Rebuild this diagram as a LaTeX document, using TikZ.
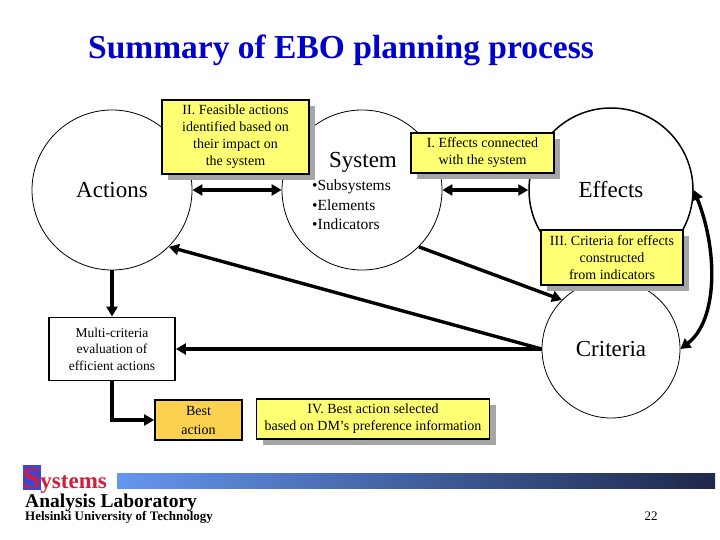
\documentclass[tikz,border=0pt]{standalone}
\usepackage{fontspec}
\setmainfont{Liberation Serif}
\usepackage{xcolor}
\usetikzlibrary{arrows.meta, positioning, calc, shadows}
\definecolor{notebox}{RGB}{255,255,115}
\definecolor{bestbox}{RGB}{250,210,80}
\definecolor{titleblue}{RGB}{0,0,204}
\definecolor{salred}{RGB}{210,30,60}
\definecolor{salblue}{RGB}{60,70,210}
\definecolor{barlight}{RGB}{100,150,240}
\definecolor{barmid}{RGB}{60,90,175}
\definecolor{bardark}{RGB}{30,40,75}

\begin{document}
\begin{tikzpicture}[x=1pt, y=-1pt,
    area/.style={circle, draw, line width=0.8pt, minimum size=160pt, inner sep=0pt,
        font=\fontsize{23}{27}\selectfont},
    note/.style={draw, line width=1.8pt, fill=notebox, align=center, inner sep=0pt,
        font=\fontsize{14}{17}\selectfont,
        drop shadow={shadow xshift=6pt, shadow yshift=-6pt, fill=black!35, opacity=1}},
    plainbox/.style={draw, line width=1.8pt, align=center, inner sep=0pt,
        font=\fontsize{13.5}{16.5}\selectfont},
    link/.style={line width=3.4pt, -{Triangle[length=10pt, width=11pt]}},
    both/.style={line width=3.4pt, {Triangle[length=10pt, width=11pt]}-{Triangle[length=10pt, width=11pt]}}]
    \fill[white] (0,0) rectangle (720,540);
    \useasboundingbox (0,0) rectangle (720,540);

    \node[font=\bfseries\fontsize{33.5}{38}\selectfont, text=titleblue] (title) at (341,50) {Summary of EBO planning process};

    % the four areas
    \node[area] (act) at (112,190) {Actions};
    \node[area] (sys) at (362,190) {};
    \node[area, line width=1.5pt, minimum size=164pt] (eff) at (611,190) {Effects};
    \node[area, minimum size=138pt] (crit) at (611,349) {Criteria};
    \node[font=\fontsize{23}{27}\selectfont] (sysname) at (363,162) {System};
    \node[align=left, anchor=north west, inner sep=0pt, font=\fontsize{15.5}{19.5}\selectfont] (sysparts) at (312,180)
        {•Subsystems\\ •Elements\\ •Indicators};

    % boxes
    \node[note, minimum width=147pt, minimum height=74pt] (feas) at (235.5,137)
        {II. Feasible actions\\ identified based on\\ their impact on\\ the system};
    \node[note, minimum width=143pt, minimum height=40pt] (conn) at (482.5,153)
        {I. Effects connected\\ with the system};
    \node[note, minimum width=142pt, minimum height=55pt] (crbox) at (612,257.5)
        {III. Criteria for effects\\ constructed\\ from indicators};
    \node[plainbox, fill=white, minimum width=126pt, minimum height=63pt] (mcda) at (112,349)
        {Multi-criteria\\ evaluation of\\ efficient actions};
    \node[plainbox, fill=bestbox, minimum width=87pt, minimum height=40pt,
        font=\fontsize{14}{19}\selectfont] (best) at (198.5,420) {Best\\ action};
    \node[note, minimum width=233pt, minimum height=40pt] (sel) at (373,419)
        {IV. Best action selected\\ based on DM’s preference information};

    % connectors
    \draw[both] (act.east) -- (sys.west);
    \draw[both] (sys.east) -- (eff.west);
    \draw[link] (sys.-45) -- (crit.135);
    \draw[link] (crit.west) -- (act.-45);
    \draw[link] (crit.west) -- (mcda.east);
    \draw[link] (act.south) -- (mcda.north);
    \draw[link] (mcda.south) |- (best.west);
    \draw[both] (eff.east) .. controls (718,250) and (718,320) .. (crit.east);

    % footer
    \shade[left color=barlight, middle color=barmid, right color=bardark] (117,473) rectangle (715,488);
    \fill[salblue] (23,465) rectangle (41,490);
    \node[anchor=base west, inner sep=0pt, text=salred, font=\bfseries\fontsize{23}{26}\selectfont] (sal) at (23,488)
        {{\fontsize{31}{32}\selectfont S}ystems};
    \node[anchor=base west, inner sep=0pt, font=\bfseries\fontsize{19.5}{22}\selectfont] (lab) at (25,507) {Analysis Laboratory};
    \node[anchor=base west, inner sep=0pt, font=\bfseries\fontsize{13}{15}\selectfont] (hut) at (25,520) {Helsinki University of Technology};
    \node[font=\fontsize{13}{15}\selectfont] (page) at (651,516) {22};
\end{tikzpicture}
\end{document}
